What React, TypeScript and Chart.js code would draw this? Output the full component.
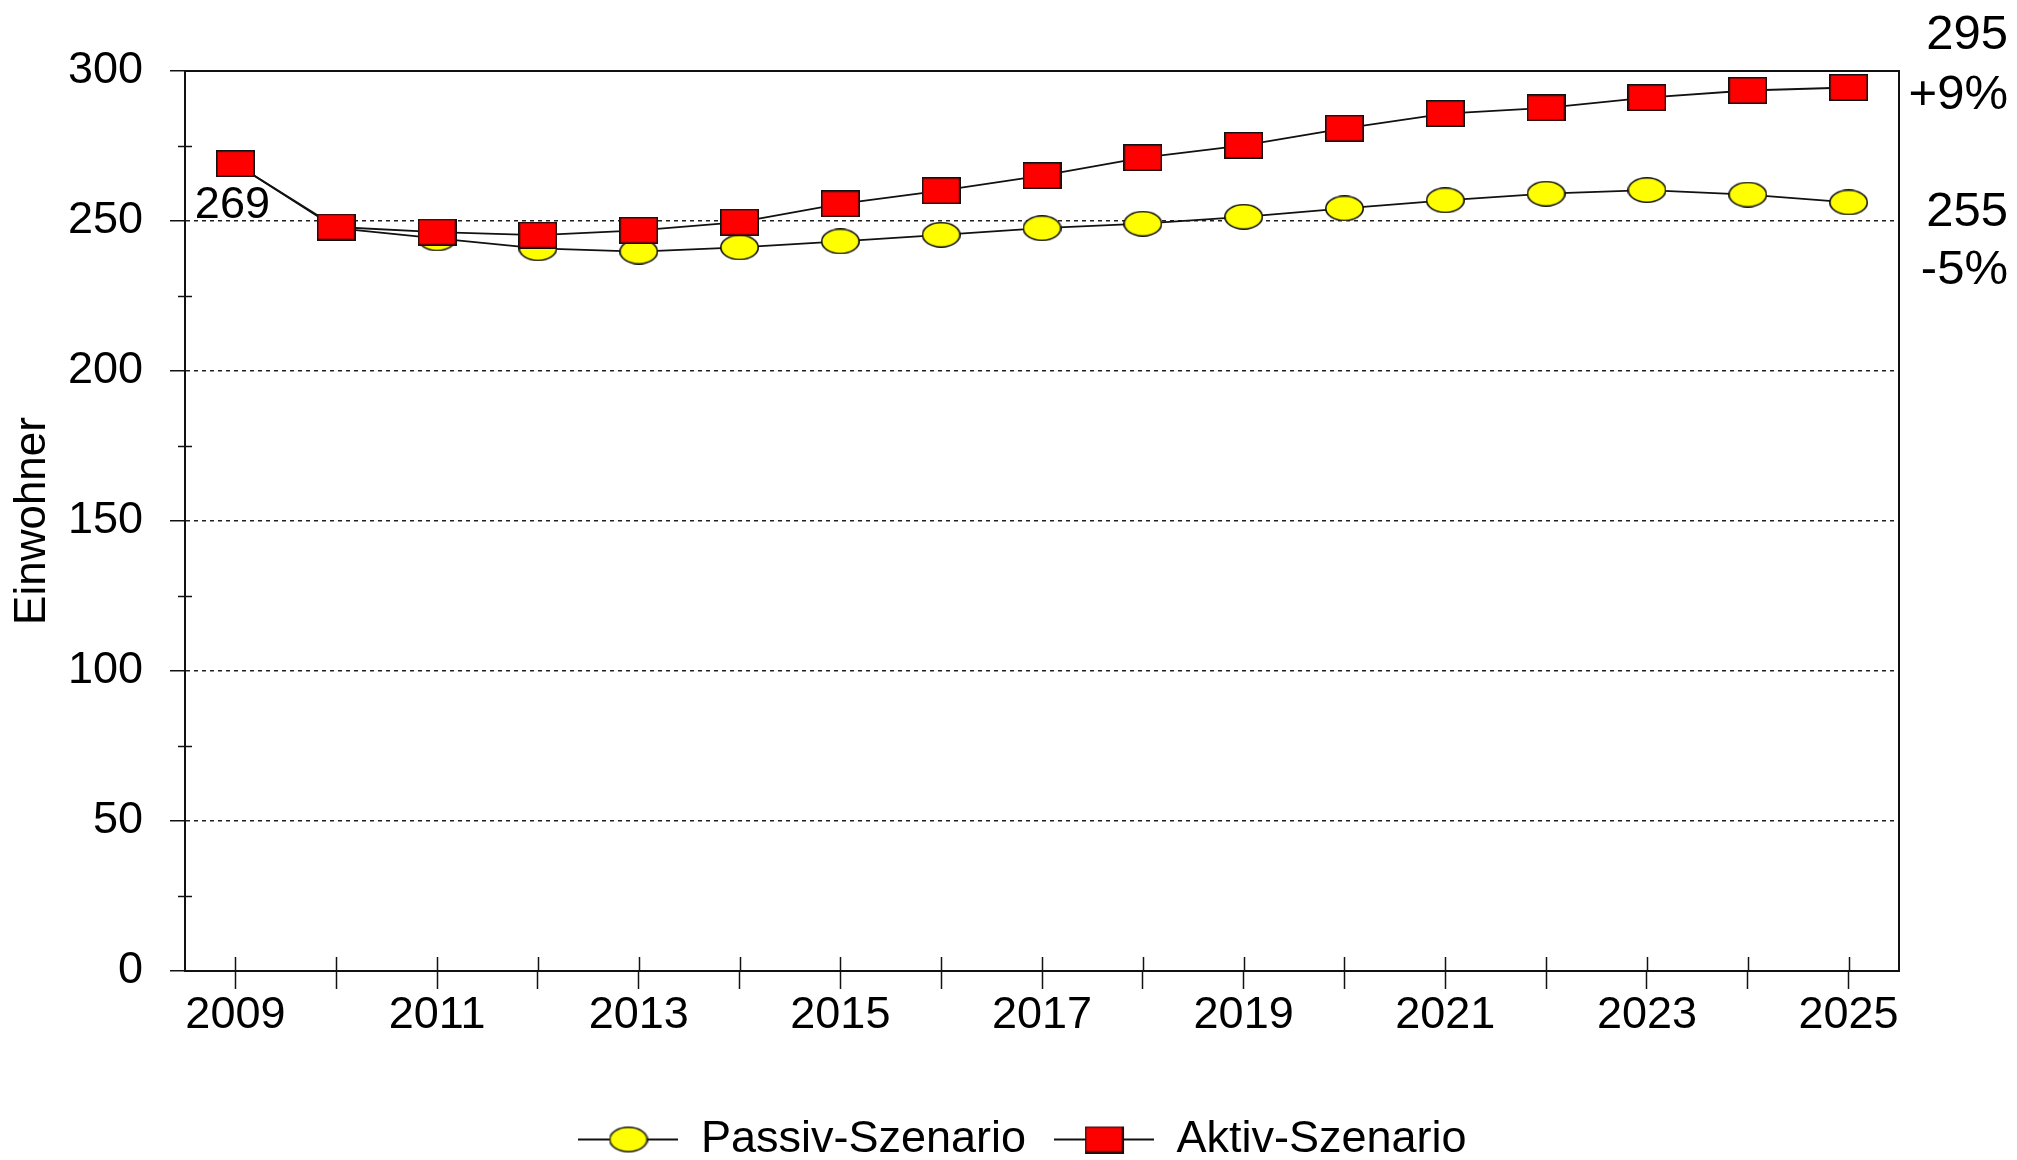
import React, { useEffect, useRef } from 'react';
import { Chart, registerables } from 'chart.js';

Chart.register(...registerables);

const years = ['2009', '2010', '2011', '2012', '2013', '2014', '2015', '2016', '2017', '2018', '2019', '2020', '2021', '2022', '2023', '2024', '2025'];
const passivValues = [269.1, 247.6, 244.2, 240.9, 239.8, 241.2, 243.2, 245.4, 247.6, 249.1, 251.4, 254.2, 256.9, 259.1, 260.3, 258.8, 256.2];
const aktivValues = [269.1, 248.0, 246.3, 245.3, 246.9, 249.6, 255.7, 260.1, 265.1, 271.1, 275.2, 280.9, 285.8, 287.7, 291.1, 293.5, 294.5];
const seriesNames = ['Passiv-Szenario', 'Aktiv-Szenario'];
const yTicks = [0, 50, 100, 150, 200, 250, 300];
const yMinorTicks = [25, 75, 125, 175, 225, 275];
const aktivEndLabels = ['295', '+9%'];
const passivEndLabels = ['255', '-5%'];
const yTitle = 'Einwohner';

const FONT = '"Liberation Sans", Arial, Helvetica, sans-serif';

function makeMarker(kind: 'rect' | 'ellipse', fill: string, w: number, h: number) {
  const c = document.createElement('canvas');
  c.width = w;
  c.height = h;
  const g = c.getContext('2d')!;
  g.fillStyle = fill;
  g.strokeStyle = '#111';
  g.lineWidth = 1.6;
  g.beginPath();
  if (kind === 'rect') {
    g.rect(0.8, 0.8, w - 1.6, h - 1.6);
  } else {
    g.ellipse(w / 2, h / 2, w / 2 - 0.8, h / 2 - 0.8, 0, 0, Math.PI * 2);
  }
  g.fill();
  g.stroke();
  return c;
}

function makeLegendIcon(marker: HTMLCanvasElement, w: number, h: number) {
  const c = document.createElement('canvas');
  c.width = w;
  c.height = h;
  const g = c.getContext('2d')!;
  g.strokeStyle = '#111';
  g.lineWidth = 1.8;
  g.beginPath();
  g.moveTo(0, h / 2);
  g.lineTo(w, h / 2);
  g.stroke();
  g.drawImage(marker, (w - marker.width) / 2, (h - marker.height) / 2);
  return c;
}

export default function App() {
  const ref = useRef<HTMLCanvasElement | null>(null);

  useEffect(() => {
    if (!ref.current) return;
    const ellipse = makeMarker('ellipse', '#ffff00', 39, 26);
    const square = makeMarker('rect', '#ff0000', 39, 27);
    const legendIcons = [makeLegendIcon(ellipse, 100, 28), makeLegendIcon(square, 100, 28)];

    const decor = {
      id: 'decor',
      afterDraw(chart: any) {
        const { ctx, chartArea: ca, scales } = chart;
        const x = scales.x;
        const y = scales.y;
        ctx.save();
        ctx.strokeStyle = '#111';
        ctx.lineWidth = 2;
        ctx.setLineDash([]);
        ctx.beginPath();
        ctx.moveTo(ca.left, ca.top);
        ctx.lineTo(ca.right, ca.top);
        ctx.lineTo(ca.right, ca.bottom);
        ctx.stroke();

        ctx.lineWidth = 1.5;
        yMinorTicks.forEach((v) => {
          const py = Math.round(y.getPixelForValue(v)) + 0.5;
          ctx.beginPath();
          ctx.moveTo(ca.left - 7, py);
          ctx.lineTo(ca.left + 7, py);
          ctx.stroke();
        });
        years.forEach((_, i) => {
          const px = Math.round(x.getPixelForValue(i)) + 0.5;
          ctx.beginPath();
          ctx.moveTo(px, ca.bottom - 14);
          ctx.lineTo(px, ca.bottom);
          ctx.stroke();
        });

        ctx.fillStyle = '#000';
        ctx.textBaseline = 'middle';
        const aMeta = chart.getDatasetMeta(1);
        const p0 = aMeta.data[0];
        ctx.font = `45px ${FONT}`;
        ctx.textAlign = 'center';
        ctx.fillText(String(Math.round(aktivValues[0])), p0.x - 3, p0.y + 42);

        ctx.font = `49px ${FONT}`;
        ctx.textAlign = 'right';
        const rx = 2008;
        const ya = y.getPixelForValue(aktivValues[aktivValues.length - 1]);
        const yp = y.getPixelForValue(passivValues[passivValues.length - 1]);
        ctx.fillText(aktivEndLabels[0], rx, ya - 52);
        ctx.fillText(aktivEndLabels[1], rx, ya + 8);
        ctx.fillText(passivEndLabels[0], rx, yp + 10);
        ctx.fillText(passivEndLabels[1], rx, yp + 68);
        ctx.restore();
      },
    };

    const chart = new Chart(ref.current, {
      type: 'line',
      data: {
        labels: years,
        datasets: [
          {
            label: seriesNames[0],
            data: passivValues,
            borderColor: '#111',
            borderWidth: 1.8,
            pointStyle: ellipse as any,
            pointRadius: 13,
            tension: 0,
            order: 1,
          },
          {
            label: seriesNames[1],
            data: aktivValues,
            borderColor: '#111',
            borderWidth: 1.8,
            pointStyle: square as any,
            pointRadius: 13,
            tension: 0,
            order: 0,
          },
        ],
      },
      options: {
        responsive: false,
        animation: false,
        events: [],
        layout: { padding: { top: 71, left: 28, right: 0, bottom: 0 } },
        font: { family: FONT },
        plugins: {
          tooltip: { enabled: false },
          legend: {
            position: 'bottom',
            labels: {
              usePointStyle: true,
              pointStyleWidth: 100,
              padding: 28,
              color: '#000',
              font: { size: 45, family: FONT },
              generateLabels: () =>
                seriesNames.map((name, i) => ({
                  text: name,
                  pointStyle: legendIcons[i] as any,
                  fillStyle: 'transparent',
                  strokeStyle: 'transparent',
                  lineWidth: 0,
                  hidden: false,
                  datasetIndex: i,
                  fontColor: '#000',
                })),
            },
          },
        },
        scales: {
          x: {
            type: 'category',
            offset: true,
            grid: {
              offset: false,
              drawOnChartArea: false,
              drawTicks: true,
              tickLength: 18,
              tickColor: '#111',
              tickWidth: 1.5,
            },
            border: { display: true, color: '#111', width: 2 },
            ticks: {
              autoSkip: false,
              maxRotation: 0,
              padding: 0,
              color: '#000',
              font: { size: 45, family: FONT },
              callback: (_v: any, i: number) => (i % 2 === 0 ? years[i] : ''),
            },
            afterFit: (s: any) => {
              s.height = 118;
            },
          },
          y: {
            type: 'linear',
            min: yTicks[0],
            max: yTicks[yTicks.length - 1],
            afterBuildTicks: (s: any) => {
              s.ticks = yTicks.map((v) => ({ value: v }));
            },
            grid: {
              color: (c: any) => (c.tick && (c.tick.value === 0 || c.tick.value === 300) ? 'rgba(0,0,0,0)' : '#222'),
              lineWidth: 1.5,
              tickLength: 15,
              tickColor: '#111',
              tickWidth: 1.5,
              tickBorderDash: [],
            } as any,
            border: { display: true, color: '#111', width: 2, dash: [4, 4] },
            ticks: {
              padding: 27,
              color: '#000',
              font: { size: 45, family: FONT },
            },
            title: {
              display: true,
              text: yTitle,
              color: '#000',
              font: { size: 44, family: FONT },
              padding: { top: -22, bottom: 0 },
            },
            afterFit: (s: any) => {
              s.width = 157;
            },
          },
          y2: {
            type: 'linear',
            position: 'right',
            display: true,
            grid: { display: false, drawTicks: false },
            ticks: { display: false },
            border: { display: false },
            afterFit: (s: any) => {
              s.width = 118;
            },
          },
        },
      } as any,
      plugins: [decor],
    });

    return () => chart.destroy();
  }, []);

  return (
    <div style={{ position: 'fixed', left: 0, top: 0, width: '2017px', height: '1160px', overflow: 'hidden', background: '#fff' }}>
      <canvas ref={ref} width={2017} height={1172} style={{ display: 'block', width: '2017px', height: '1172px' }} />
    </div>
  );
}
